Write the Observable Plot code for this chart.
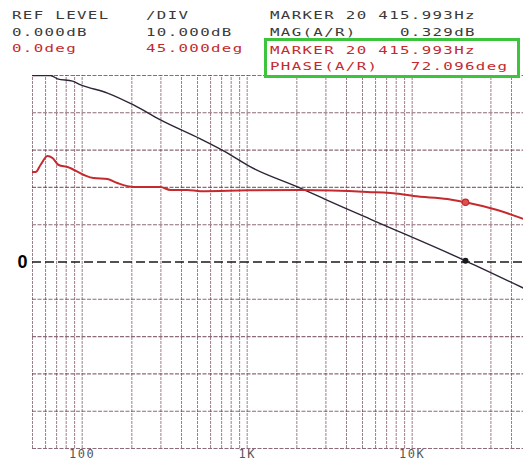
<!DOCTYPE html>
<html>
<head>
<meta charset="utf-8">
<script src="https://cdn.jsdelivr.net/npm/d3@7"></script>
<script src="https://cdn.jsdelivr.net/npm/@observablehq/plot@0.6"></script>
<style>
  html, body { margin: 0; padding: 0; background: #fff; overflow: hidden; }
  #wrap { position: relative; width: 523px; height: 465px; }
  .hdr { position: absolute; font-family: "DejaVu Sans Mono", monospace; font-size: 10.5px;
         transform-origin: 0 0; transform: scaleX(1.5); letter-spacing: 0.9px; white-space: pre;
         color: #3a3a3a; line-height: 1; }
  .red { color: #c42a2e; }
  #box { position: absolute; left: 264px; top: 38px; width: 250px; height: 34px;
         border: 3px solid #3cc43c; }
  #chart { position: absolute; left: 0; top: 0; }
  .freqlabel text { letter-spacing: 1.5px; }
</style>
</head>
<body>
<div id="wrap">
  <div id="chart"></div>
  <div class="hdr" style="left:12px; top:10px">REF LEVEL</div>
  <div class="hdr" style="left:12px; top:27px">0.000dB</div>
  <div class="hdr red" style="left:12px; top:43px">0.0deg</div>
  <div class="hdr" style="left:146px; top:10px">/DIV</div>
  <div class="hdr" style="left:146px; top:27px">10.000dB</div>
  <div class="hdr red" style="left:146px; top:43px">45.000deg</div>
  <div class="hdr" style="left:270px; top:10px">MARKER 20 415.993Hz</div>
  <div class="hdr" style="left:270px; top:27px">MAG(A/R)    0.329dB</div>
  <div class="hdr red" style="left:270px; top:45px">MARKER 20 415.993Hz</div>
  <div class="hdr red" style="left:270px; top:61px">PHASE(A/R)   72.096deg</div>
  <div id="box"></div>
</div>
<script>
// Sweep frequencies (Hz) and magnitude trace (dB)
const magFreq = [50, 58, 64.3, 70.9, 87.4, 98, 142.4, 204.7, 298, 521, 719, 1048, 2105, 3068, 5835, 21050, 47300];
const magDb   = [50, 50, 50, 49.1, 48.5, 47.5, 45.3, 42.1, 38.1, 33.0, 29.8, 25.5, 19.8, 16.5, 11.1, 0.329, -7.0];

// Phase trace (deg)
const phaseFreq = [50, 52.2, 55.9, 61.6, 66.1, 72.0, 81.6, 102.5, 117.1, 142.4, 163.3, 204.7, 298, 343, 435, 521, 1000, 2105, 5350, 8490, 10180, 16330, 21050, 32800, 47300];
const phaseDeg  = [108.6, 108.6, 117, 127.9, 125.5, 117, 114.6, 105, 101.3, 100.1, 95.3, 90.5, 90.5, 86.9, 86.9, 85.5, 86.5, 86.9, 84.5, 82, 79.6, 76, 72.096, 62.7, 51.9];

// Marker readout
const markerFreq = [21050];
const markerMagDb = [0.329];
const markerPhaseDeg = [72.096];

// Scale settings: 10 dB/div and 45 deg/div, both referenced to the centre line
const dbPerDiv = 10;
const degPerDiv = 45;

// Graticule
const decadeTicks = [100, 1000, 10000];
const decadeLabels = ["100", "1K", "10K"];
const gridFreq = [];
for (const base of [10, 100, 1000, 10000]) {
  for (let m = 1; m <= 9; m++) {
    const f = base * m;
    if (f >= 50 && f <= 50000) gridFreq.push(f);
  }
}
gridFreq.push(50000);
const gridDiv = d3.range(-5, 6);

const mag = magFreq.map((f, i) => ({f, v: magDb[i]}));
const phase = phaseFreq.map((f, i) => ({f, v: phaseDeg[i]}));
const markers = markerFreq.map((f, i) => ({f, db: markerMagDb[i], deg: markerPhaseDeg[i]}));
const tickLabel = new Map(decadeTicks.map((t, i) => [t, decadeLabels[i]]));

const gridColor = "#5e2a40";

const chart = Plot.plot({
  width: 523,
  height: 465,
  marginTop: 75,
  marginBottom: 17,
  marginLeft: 32,
  marginRight: 0,
  x: {type: "log", domain: [50, 50000], range: [32, 527], axis: null},
  y: {domain: [-5, 5]},
  style: {background: "transparent"},
  marks: [
    Plot.ruleX(gridFreq, {x: d => d, y1: -5, y2: 5, stroke: gridColor, strokeWidth: 1, strokeOpacity: 0.6, strokeDasharray: "3,1"}),
    Plot.ruleY(gridDiv.filter(d => d !== 0), {y: d => d, x1: 50, x2: 50000, stroke: gridColor, strokeWidth: 1.1, strokeOpacity: 0.7, strokeDasharray: "4,1.5"}),
    Plot.ruleY([0], {stroke: "#1a1a1a", strokeWidth: 1.6, strokeDasharray: "9,4"}),
    Plot.line(mag, {x: "f", y: d => d.v / dbPerDiv, stroke: "#2e2438", strokeWidth: 1.4, curve: "monotone-x", clip: "frame"}),
    Plot.line(phase, {x: "f", y: d => d.v / degPerDiv, stroke: "#c42a2e", strokeWidth: 2, curve: "monotone-x", clip: "frame"}),
    Plot.dot(markers, {x: "f", y: d => d.deg / degPerDiv, r: 3.2, fill: "#e05050", stroke: "#c42a2e", strokeWidth: 1.2}),
    Plot.dot(markers, {x: "f", y: d => d.db / dbPerDiv, r: 3, fill: "#1a1a1a"}),
    Plot.text(decadeTicks, {x: d => d, frameAnchor: "bottom", dy: 9, text: d => tickLabel.get(d),
      fontSize: 12, fontFamily: "DejaVu Sans Mono, monospace", fill: "#555", className: "freqlabel"}),
    Plot.axisY({ticks: [0], tickFormat: d => String(d), tickSize: 0, tickPadding: 5,
      fontSize: 18, fontWeight: "bold", fontFamily: "Liberation Sans, Arial, sans-serif", fill: "#000", label: null})
  ]
});
document.getElementById("chart").appendChild(chart);
</script>
</body>
</html>
